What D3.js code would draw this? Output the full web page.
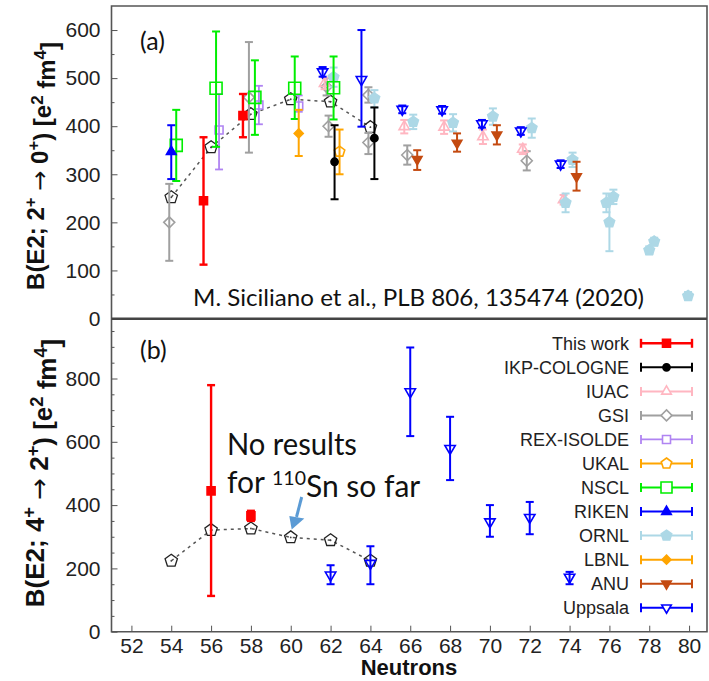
<!DOCTYPE html>
<html>
<head>
<meta charset="utf-8">
<script src="https://cdn.jsdelivr.net/npm/d3@7"></script>
<style>
  body { margin: 0; background: #fff; }
</style>
</head>
<body>
<div id="chart"></div>
<script>
// ---- data (neutron number, B(E2), error down, error up) ----
const neutronTicks = d3.range(52, 81, 2);
const yTicksA = [0, 100, 200, 300, 400, 500, 600];
const yTicksB = [0, 200, 400, 600, 800];

const theoryN = [54, 56, 58, 60, 62, 64];
const theoryA = [252, 356, 425, 456, 451, 398];
const theoryB = [224, 321, 326, 298, 289, 224];

// panel (a): 2+ -> 0+
const thisWorkA = [[55.62, 245, 133, 132], [57.6, 422, 45, 45]];
const ikpA = [[62.2, 326, 78, 76], [64.2, 375, 85, 64]];
const iuacA = [[61.7, 489, 12, 12], [65.7, 399, 14, 14], [67.7, 398, 14, 14], [69.65, 378, 15, 15], [71.65, 352, 10, 10], [73.7, 247, 10, 10]];
const gsiA = [[53.9, 200, 80, 80], [57.9, 460, 115, 115], [61.8, 482, 18, 18], [61.9, 400, 22, 22], [63.9, 465, 16, 16], [63.9, 366, 24, 20], [65.85, 340, 20, 20], [71.85, 328, 20, 20]];
const rexA = [[56.4, 392, 82, 75], [58.4, 444, 40, 40], [60.4, 442, 12, 22]];
const ukalA = [[62.45, 347, 47, 46]];
const nsclA = [[54.25, 360, 74, 74], [56.25, 479, 122, 118], [58.2, 460, 78, 77], [60.2, 479, 64, 66], [62.15, 480, 66, 65]];
const rikenA = [[54, 347, 57, 55]];
const ornlA = [[62.15, 502, 20, 20], [64.2, 458, 19, 17], [66.15, 409, 15, 15], [68.15, 407, 18, 18], [70.15, 420, 17, 17], [72.1, 396, 20, 20], [74.15, 330, 15, 15], [73.8, 241, 20, 19], [75.85, 241, 20, 19], [76.2, 253, 15, 15], [76, 200, 60, 41], [78, 142, 8, 8], [78.25, 160, 8, 8], [79.95, 47, 8, 8]];
const lbnlA = [[60.4, 385, 47, 49]];
const anuA = [[66.35, 331, 22, 19], [68.35, 365, 18, 20], [70.35, 382, 20, 20], [74.35, 295, 29, 31]];
const uppsalaA = [[61.6, 513, 10, 10], [63.55, 497, 98, 103], [65.6, 435, 8, 8], [67.6, 434, 8, 8], [69.6, 405, 8, 8], [71.55, 390, 8, 8], [73.55, 321, 8, 8]];

// panel (b): 4+ -> 2+
const thisWorkB = [[56, 445, 332, 334], [58, 366, 16, 16]];
const uppsalaB = [[62, 179, 29, 31], [64, 216, 66, 54], [66, 758, 140, 140], [68, 579, 100, 100], [70, 347, 47, 53], [72, 361, 53, 49], [74, 172, 22, 17]];

// ---- styles ----
const styles = {
  thisWork: { label: "This work", color: "#ff0000", shape: "square", filled: true, r: 4, w: 2.4 },
  ikp: { label: "IKP-COLOGNE", color: "#000000", shape: "circle", filled: true, r: 3.6, w: 2 },
  iuac: { label: "IUAC", color: "#ffb6c1", shape: "triUp", filled: false, r: 6, w: 2 },
  gsi: { label: "GSI", color: "#a0a0a0", shape: "diamond", filled: false, r: 5.5, w: 2 },
  rex: { label: "REX-ISOLDE", color: "#b084f2", shape: "square", filled: false, r: 4, w: 1.8 },
  ukal: { label: "UKAL", color: "#ffa500", shape: "pentagon", filled: false, r: 5.5, w: 2 },
  nscl: { label: "NSCL", color: "#00ee00", shape: "square", filled: false, r: 6, w: 2 },
  riken: { label: "RIKEN", color: "#0000ff", shape: "triUp", filled: true, r: 5.5, w: 2 },
  ornl: { label: "ORNL", color: "#add8e6", shape: "pentagon", filled: true, r: 5.5, w: 2 },
  lbnl: { label: "LBNL", color: "#ffa500", shape: "diamond", filled: true, r: 4.5, w: 2 },
  anu: { label: "ANU", color: "#c44a10", shape: "triDown", filled: true, r: 5.5, w: 2 },
  uppsala: { label: "Uppsala", color: "#0000ff", shape: "triDown", filled: false, r: 6, w: 2 }
};
const legendOrder = ["thisWork", "ikp", "iuac", "gsi", "rex", "ukal", "nscl", "riken", "ornl", "lbnl", "anu", "uppsala"];

const seriesA = [
  ["gsi", gsiA], ["iuac", iuacA], ["rex", rexA], ["ornl", ornlA], ["nscl", nsclA],
  ["riken", rikenA], ["lbnl", lbnlA], ["ukal", ukalA], ["anu", anuA], ["ikp", ikpA],
  ["uppsala", uppsalaA], ["thisWork", thisWorkA]
];
const seriesB = [["uppsala", uppsalaB], ["thisWork", thisWorkB]];

// ---- layout ----
const width = 709, height = 681;
const left = 111.5, right = 707;

const svg = d3.select("#chart").append("svg")
  .attr("width", width)
  .attr("height", height)
  .style("font-family", "'Liberation Sans', Arial, sans-serif");

const x = d3.scaleLinear().domain([51, 80.9]).range([left, right]);
const yA = d3.scaleLinear().domain([0, 650]).range([318.5, 6]);
const yB = d3.scaleLinear().domain([0, 988]).range([631.7, 319]);

function markerPath(shape, r) {
  switch (shape) {
    case "square": return `M${-r},${-r}H${r}V${r}H${-r}Z`;
    case "circle": return d3.symbol(d3.symbolCircle, Math.PI * r * r)();
    case "diamond": return `M0,${-r}L${r},0L0,${r}L${-r},0Z`;
    case "triUp": return `M0,${-r}L${r * 0.87},${r * 0.5}L${-r * 0.87},${r * 0.5}Z`;
    case "triDown": return `M0,${r}L${r * 0.87},${-r * 0.5}L${-r * 0.87},${-r * 0.5}Z`;
    case "pentagon": {
      const pts = d3.range(5).map(k => {
        const a = -Math.PI / 2 + k * 2 * Math.PI / 5;
        return [r * Math.cos(a), r * Math.sin(a)];
      });
      return "M" + pts.map(p => p.join(",")).join("L") + "Z";
    }
  }
}

function drawSeries(g, y, rows, st) {
  const grp = g.append("g");
  const pts = grp.selectAll("g.pt").data(rows).enter().append("g")
    .attr("transform", d => `translate(${x(d[0])},0)`);
  pts.append("line")
    .attr("y1", d => y(d[1] - d[2]))
    .attr("y2", d => y(d[1] + d[3]))
    .attr("stroke", st.color).attr("stroke-width", st.w);
  [d => y(d[1] - d[2]), d => y(d[1] + d[3])].forEach(fy => {
    pts.append("line")
      .attr("x1", -4).attr("x2", 4)
      .attr("y1", fy).attr("y2", fy)
      .attr("stroke", st.color).attr("stroke-width", st.w);
  });
  pts.append("path")
    .attr("d", markerPath(st.shape, st.r))
    .attr("transform", d => `translate(0,${y(d[1])})`)
    .attr("fill", st.filled ? st.color : "none")
    .attr("stroke", st.color)
    .attr("stroke-width", 1.6);
}

function drawTheory(g, y, vals) {
  const line = d3.line().x((d, i) => x(theoryN[i])).y(d => y(d));
  g.append("path")
    .attr("d", line(vals))
    .attr("fill", "none")
    .attr("stroke", "#555")
    .attr("stroke-width", 1.5)
    .attr("stroke-dasharray", "3,4");
  const p = g.append("g").selectAll("g").data(vals).enter().append("g")
    .attr("transform", (d, i) => `translate(${x(theoryN[i])},${y(d)})`);
  p.append("path")
    .attr("d", markerPath("pentagon", 6.5))
    .attr("fill", "none")
    .attr("stroke", "#222")
    .attr("stroke-width", 1.3);
  p.append("circle").attr("r", 0.9).attr("fill", "#444");
}

function drawYAxis(y, ticks, minorStep) {
  const minor = d3.range(0, y.domain()[1], minorStep).filter(v => !ticks.includes(v));
  svg.append("g")
    .attr("transform", `translate(${left},0)`)
    .call(d3.axisLeft(y).tickValues(minor).tickSize(-3).tickFormat(""))
    .call(g => g.select(".domain").remove())
    .call(g => g.selectAll("line").attr("stroke", "#555"));
  svg.append("g")
    .attr("transform", `translate(${left},0)`)
    .call(d3.axisLeft(y).tickValues(ticks).tickSizeInner(-6).tickSizeOuter(0).tickPadding(11))
    .call(g => g.select(".domain").remove())
    .call(g => g.selectAll("line").attr("stroke", "#555"))
    .call(g => g.selectAll("text").attr("font-size", 21).attr("fill", "#222")
      .attr("font-family", "'Liberation Sans', Arial, sans-serif"));
}

// ---- panel (a) ----
const gA = svg.append("g");
drawTheory(gA, yA, theoryA);
seriesA.forEach(([k, rows]) => drawSeries(gA, yA, rows, styles[k]));
drawYAxis(yA, yTicksA, 50);

// ---- panel (b) ----
const gB = svg.append("g");
drawTheory(gB, yB, theoryB);
seriesB.forEach(([k, rows]) => drawSeries(gB, yB, rows, styles[k]));
drawYAxis(yB, yTicksB, 50);

// x axis
svg.append("g")
  .attr("transform", `translate(0,${yB(0)})`)
  .call(d3.axisBottom(x).tickValues(neutronTicks).tickSizeInner(-6).tickSizeOuter(0).tickPadding(6))
  .call(g => g.select(".domain").remove())
  .call(g => g.selectAll("line").attr("stroke", "#555"))
  .call(g => g.selectAll("text").attr("font-size", 21).attr("fill", "#222")
    .attr("font-family", "'Liberation Sans', Arial, sans-serif"));

// frames
svg.append("path")
  .attr("d", `M${left},${yA(0)}V${yA.range()[1]}H${right}V${yB(0)}H${left}Z`)
  .attr("fill", "none").attr("stroke", "#555").attr("stroke-width", 1.6);
svg.append("line")
  .attr("x1", left).attr("x2", right)
  .attr("y1", 318.8).attr("y2", 318.8)
  .attr("stroke", "#444").attr("stroke-width", 2.4);

// legend
const legend = svg.append("g").attr("class", "legend");
legendOrder.forEach((k, i) => {
  const st = styles[k];
  const ly = 343.3 + i * 24.04;
  const row = legend.append("g").attr("transform", `translate(0,${ly})`);
  row.append("text")
    .attr("x", 629).attr("y", 0).attr("dy", "0.35em")
    .attr("text-anchor", "end")
    .attr("font-size", 18).attr("fill", "#222")
    .text(st.label);
  row.append("line").attr("x1", 641).attr("x2", 692)
    .attr("stroke", st.color).attr("stroke-width", st.w);
  [641, 692].forEach(cx => row.append("line")
    .attr("x1", cx).attr("x2", cx).attr("y1", -4.5).attr("y2", 4.5)
    .attr("stroke", st.color).attr("stroke-width", st.w));
  row.append("path")
    .attr("d", markerPath(st.shape, Math.min(st.r, 5.5)))
    .attr("transform", "translate(666.5,0)")
    .attr("fill", st.filled ? st.color : "#fff")
    .attr("stroke", st.color).attr("stroke-width", 1.6);
});

// axis titles
function yTitle(cx, cy, size, lower, upper) {
  const t = svg.append("text")
    .attr("transform", `translate(${cx},${cy}) rotate(-90)`)
    .attr("text-anchor", "middle")
    .attr("font-weight", "bold")
    .attr("font-size", size)
    .attr("fill", "#111");
  const sup = (s) => { t.append("tspan").attr("dy", "-0.5em").attr("font-size", "70%").text(s); };
  t.append("tspan").text(`B(E2; ${lower}`);
  sup("+");
  t.append("tspan").attr("dy", "0.5em").text(" ");
  t.append("tspan").attr("font-family", "'DejaVu Sans', sans-serif").attr("font-weight", "normal").text("\u2192");
  t.append("tspan").text(" " + upper);
  sup("+");
  t.append("tspan").attr("dy", "0.5em").text(") [e");
  sup("2");
  t.append("tspan").attr("dy", "0.5em").text(" fm");
  sup("4");
  t.append("tspan").attr("dy", "0.5em").text("]");
}
yTitle(44, 166, 24, "2", "0");
yTitle(44, 473, 26, "4", "2");

svg.append("text")
  .attr("x", 409).attr("y", 675)
  .attr("text-anchor", "middle")
  .attr("font-weight", "bold")
  .attr("font-size", 22)
  .attr("fill", "#111")
  .text("Neutrons");

// annotations
const noteFont = "Lato, 'Open Sans', sans-serif";
svg.append("text").attr("x", 140).attr("y", 50)
  .attr("font-family", noteFont).attr("font-size", 25).attr("fill", "#111").text("(a)");
svg.append("text").attr("x", 140).attr("y", 359)
  .attr("font-family", noteFont).attr("font-size", 25).attr("fill", "#111").text("(b)");

svg.append("text")
  .attr("x", 193).attr("y", 306)
  .attr("font-family", noteFont).attr("font-size", 24).attr("fill", "#111")
  .attr("textLength", 451).attr("lengthAdjust", "spacingAndGlyphs")
  .text("M. Siciliano et al., PLB 806, 135474 (2020)");

svg.append("text")
  .attr("x", 227).attr("y", 455)
  .attr("font-family", noteFont).attr("font-size", 30).attr("fill", "#111")
  .attr("textLength", 130).attr("lengthAdjust", "spacingAndGlyphs")
  .text("No results");
const l2 = svg.append("text")
  .attr("x", 227).attr("y", 493)
  .attr("font-family", noteFont).attr("font-size", 30).attr("fill", "#111");
l2.append("tspan").text("for ");
l2.append("tspan").attr("dy", "-0.4em").attr("font-size", "65%").text("110");
l2.append("tspan").attr("dy", "0.4em").text("Sn so far");

// arrow
const arrowColor = "#5b9bd5";
svg.append("line")
  .attr("x1", 301.7).attr("y1", 497).attr("x2", 296.5).attr("y2", 517)
  .attr("stroke", arrowColor).attr("stroke-width", 3);
svg.append("path")
  .attr("d", "M289.3,516L304.3,518.5L291.7,529.5Z")
  .attr("fill", arrowColor);
</script>
</body>
</html>
